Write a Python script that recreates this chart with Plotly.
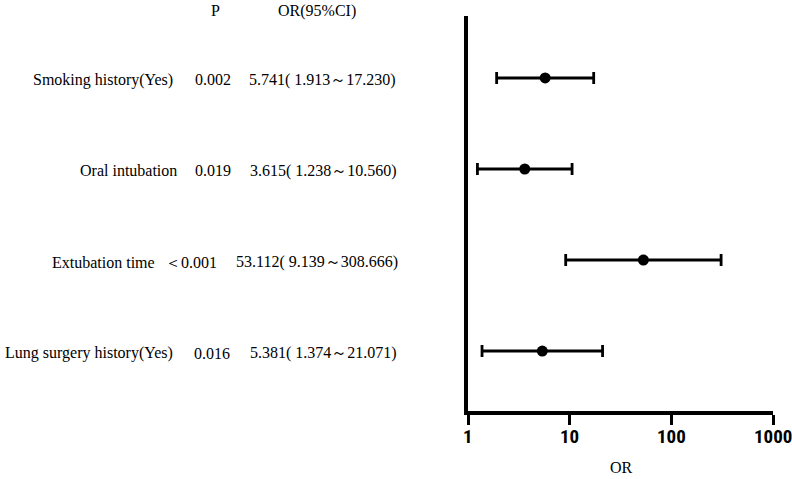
import math
import plotly.graph_objects as go

labels = ["Smoking history(Yes)", "Oral intubation", "Extubation time", "Lung surgery history(Yes)"]
p_text = ["0.002", "0.019", "＜0.001", "0.016"]
or_val = [5.741, 3.615, 53.112, 5.381]
ci_lo = [1.913, 1.238, 9.139, 1.374]
ci_hi = [17.230, 10.560, 308.666, 21.071]
or_text = ["5.741( 1.913～17.230)", "3.615( 1.238～10.560)", "53.112( 9.139～308.666)", "5.381( 1.374～21.071)"]
rows = [4, 3, 2, 1]
tick_vals = [1, 10, 100, 1000]
tick_text = ["1", "10", "100", "1000"]

W, H = 792, 479
L, R, T, B = 468, 19, 16, 68
PW = W - L - R
PH = H - T - B

def px(x):
    return (x - L) / PW

def py(y):
    return (H - B - y) / PH

txt_font = dict(family="Liberation Serif, DejaVu Serif, serif", size=16, color="black")
tick_font = dict(family="Liberation Sans Narrow, Roboto Condensed, Arial Narrow, Liberation Sans",
                 size=19, color="black", weight="bold")

fig = go.Figure()
fig.add_trace(go.Scatter(
    x=or_val, y=rows, mode="markers",
    marker=dict(color="black", size=11, symbol="circle"),
    error_x=dict(type="data", symmetric=False,
                 array=[h - o for h, o in zip(ci_hi, or_val)],
                 arrayminus=[o - l for o, l in zip(or_val, ci_lo)],
                 color="black", thickness=2.8, width=6),
    showlegend=False, hoverinfo="skip",
))

lab_right = [175, 179, 157, 175]
p_right = [233, 233, 219, 232]
or_right = [398, 399, 400, 399]
ann = []
for i in range(4):
    ann.append(dict(x=px(lab_right[i]), y=rows[i], xref="paper", yref="y", text=labels[i],
                    xanchor="right", yanchor="middle", showarrow=False, font=txt_font, yshift=-2))
    ann.append(dict(x=px(p_right[i]), y=rows[i], xref="paper", yref="y", text=p_text[i],
                    xanchor="right", yanchor="middle", showarrow=False, font=txt_font, yshift=-2))
    ann.append(dict(x=px(or_right[i]), y=rows[i], xref="paper", yref="y", text=or_text[i],
                    xanchor="right", yanchor="middle", showarrow=False, font=txt_font, yshift=-2))
ann.append(dict(x=px(216), y=py(11), xref="paper", yref="paper", text="P",
                xanchor="center", yanchor="middle", showarrow=False, font=txt_font))
ann.append(dict(x=px(317), y=py(11), xref="paper", yref="paper", text="OR(95%CI)",
                xanchor="center", yanchor="middle", showarrow=False, font=txt_font))
ann.append(dict(x=px(621), y=py(467), xref="paper", yref="paper", text="OR",
                xanchor="center", yanchor="middle", showarrow=False, font=txt_font))
for v, t in zip(tick_vals, tick_text):
    ann.append(dict(x=math.log10(v), y=py(437), xref="x", yref="paper", text=t, xanchor="center",
                    yanchor="middle", showarrow=False, font=tick_font))

fig.update_layout(
    width=W, height=H,
    margin=dict(l=L, r=R, t=T, b=B, pad=0),
    paper_bgcolor="white", plot_bgcolor="white",
    annotations=ann,
    xaxis=dict(type="log", range=[0, 3], tickvals=tick_vals, showticklabels=False,
               showgrid=False, zeroline=False, showline=True, linecolor="black", linewidth=3.5,
               ticks="outside", ticklen=10, tickwidth=3, tickcolor="black", automargin=False),
    yaxis=dict(range=[0.341, 4.681], showgrid=False, zeroline=False, showline=True,
               linecolor="black", linewidth=4, showticklabels=False, ticks="", automargin=False),
)
fig.write_html("out.html")
